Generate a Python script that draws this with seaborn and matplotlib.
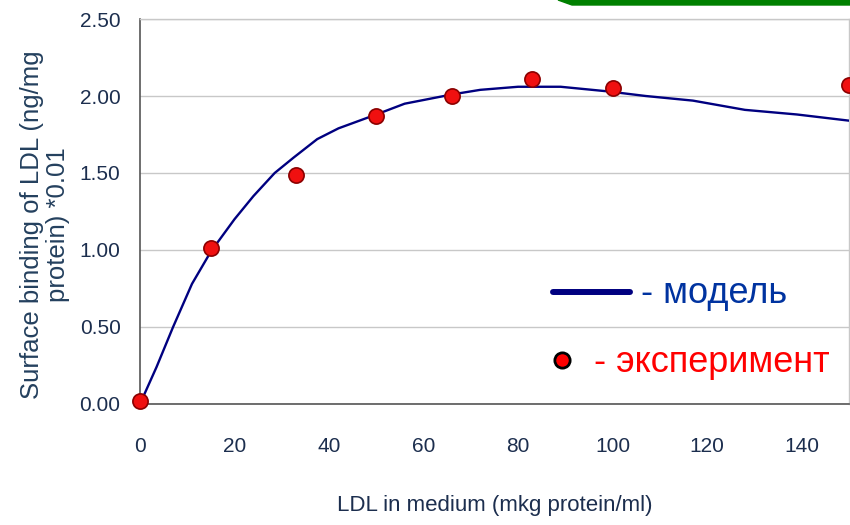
# LDL surface binding: model curve vs experiment
import matplotlib
matplotlib.use("Agg")
import matplotlib.pyplot as plt
import matplotlib.lines as mlines
from matplotlib.patches import Polygon
import seaborn as sns

# model curve
model_x = [0, 3.5, 7, 11, 15, 20, 24, 28.5, 32.5, 37.5, 42, 50, 56, 66, 72, 80,
           89, 99, 107, 117, 128, 139, 150]
model_y = [0.00, 0.24, 0.50, 0.78, 0.99, 1.20, 1.35, 1.50, 1.60, 1.72, 1.79, 1.88,
           1.95, 2.01, 2.04, 2.06, 2.06, 2.03, 2.00, 1.97, 1.91, 1.88, 1.84]

# experiment points
exp_x = [0, 15, 33, 50, 66, 83, 100, 150]
exp_y = [0.02, 1.01, 1.49, 1.87, 2.00, 2.11, 2.05, 2.07]

x_ticks = [0, 20, 40, 60, 80, 100, 120, 140]
y_ticks = [0.0, 0.5, 1.0, 1.5, 2.0, 2.5]

sns.set_style("white")
plt.rcParams['font.family'] = ['Liberation Sans', 'DejaVu Sans']

TXT = "#1c2e4e"
fig = plt.figure(figsize=(8.5, 5.25), dpi=100)
ax = fig.add_axes([0.1647, 0.2305, 0.834, 0.7333])

sns.lineplot(x=model_x, y=model_y, ax=ax, color="#000080", linewidth=1.7,
             sort=False, zorder=3)
sns.scatterplot(x=exp_x, y=exp_y, ax=ax, color="#f01010", edgecolor="#8b0000",
                linewidth=1.2, s=120, zorder=4, clip_on=False)

ax.set_xlim(0, 150)
ax.set_ylim(0, 2.5)
ax.set_xticks(x_ticks)
ax.set_yticks(y_ticks)
ax.set_yticklabels([f"{v:.2f}" for v in y_ticks])
ax.tick_params(axis="x", direction="out", length=9, width=1, color="#555555",
               pad=15, labelsize=15, labelcolor=TXT)
ax.tick_params(axis="y", direction="out", length=6, width=1, color="#555555",
               pad=8, labelsize=15, labelcolor=TXT)
ax.grid(axis="y", color="#c8c8c8", linewidth=1)
ax.grid(axis="x", visible=False)
for s in ["left", "bottom"]:
    ax.spines[s].set_color("#555555")
    ax.spines[s].set_linewidth(1.2)
for s in ["top", "right"]:
    ax.spines[s].set_color("#c8c8c8")
    ax.spines[s].set_linewidth(1)

ax.set_xlabel("LDL in medium (mkg protein/ml)", fontsize=16, color=TXT)
ax.xaxis.set_label_coords(0.5, -0.236)
ax.set_ylabel("Surface binding of LDL (ng/mg\nprotein) *0.01", fontsize=18.5,
              color="#24405e", linespacing=1.1)
ax.yaxis.set_label_coords(-0.099, 0.467)

# legend drawn as free text
ax.add_line(mlines.Line2D([0.5825, 0.691], [0.2906, 0.2906], transform=ax.transAxes,
                          color="#000080", linewidth=4.3, clip_on=False))
ax.text(0.7066, 0.262, "- модель", transform=ax.transAxes, fontsize=26,
        color="#0033a0", va="baseline", ha="left")
ax.add_line(mlines.Line2D([0.595], [0.114], transform=ax.transAxes, marker="o",
                          markersize=11, markerfacecolor="#ff0000",
                          markeredgecolor="black", markeredgewidth=2, clip_on=False))
ax.text(0.640, 0.084, "- эксперимент", transform=ax.transAxes, fontsize=26,
        color="#ff0000", va="baseline", ha="left")

# green slide decoration at top
fig.patches.append(Polygon([[558 / 850, 1], [572 / 850, 1 - 5 / 525], [1, 1 - 5 / 525], [1, 1]],
                           closed=True, transform=fig.transFigure, color="#008000"))

fig.savefig("out.png", dpi=100)
